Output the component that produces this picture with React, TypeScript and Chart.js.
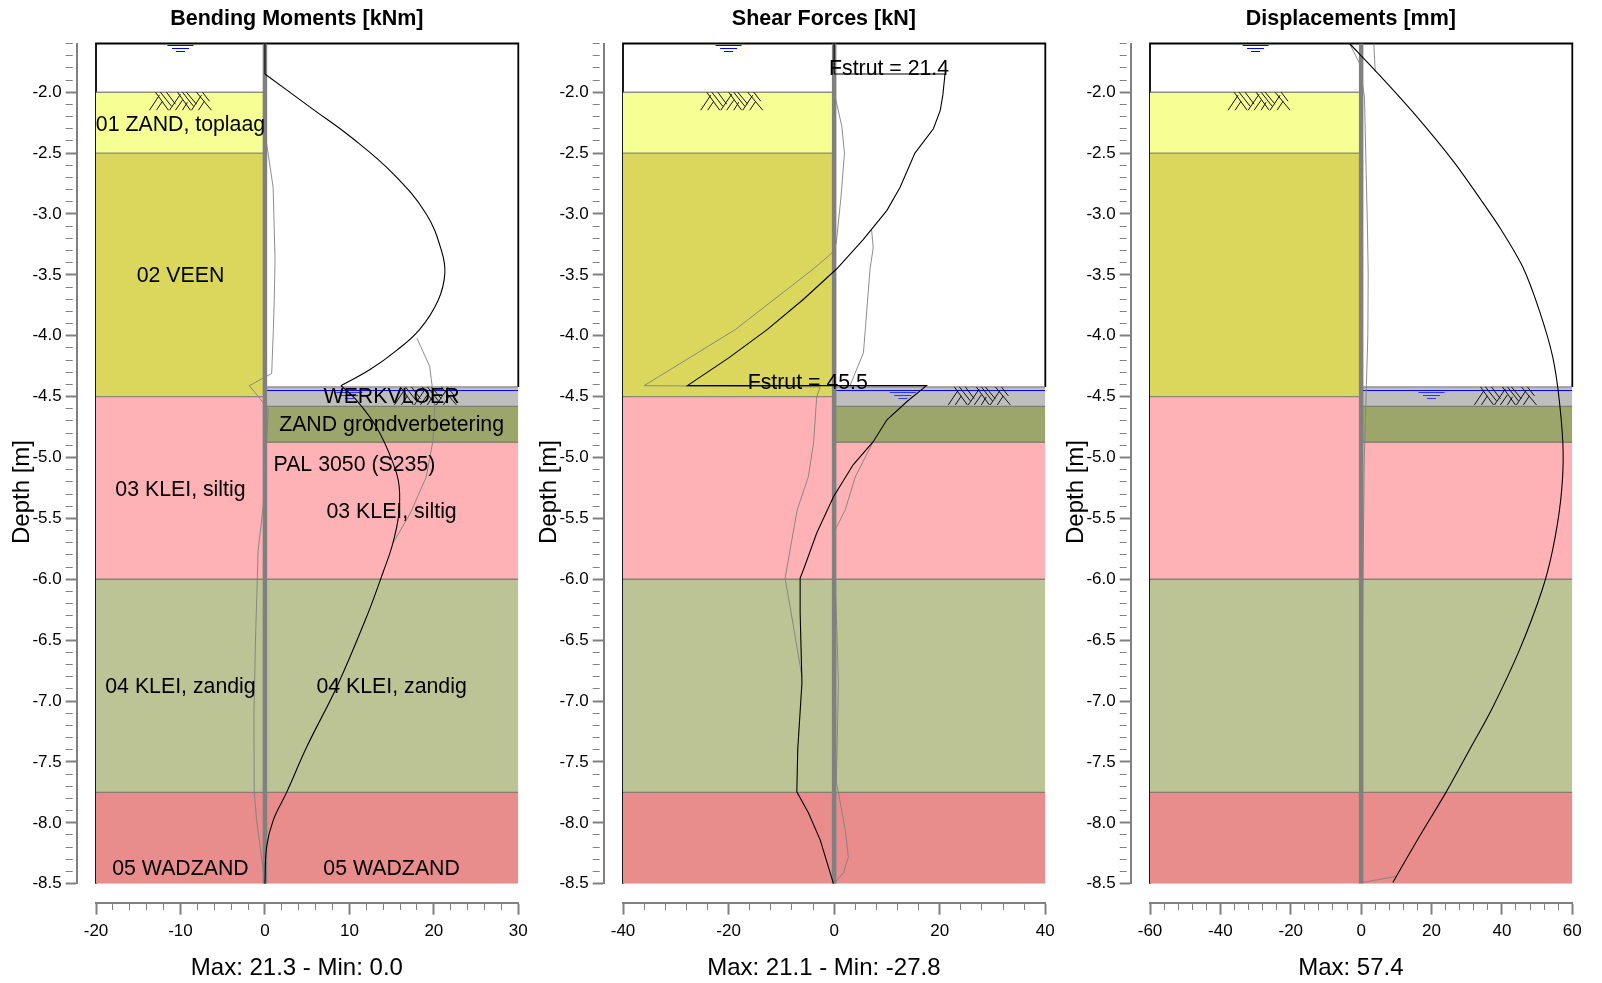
import React, { useEffect, useRef } from "react";
import { Chart, registerables } from "chart.js";

Chart.register(...registerables);

const FONT = "'Liberation Sans', Arial, sans-serif";
const GREY = "#808080";

// ---------- soil layers ----------
const leftLayerDepths = [-2.0, -2.5, -4.5, -6.0, -7.75, -8.5];
const leftLayerColors = ["#f5ff94", "#dbd75c", "#ffb2b6", "#bcc496", "#e98c8c"];
const rightLayerDepths = [-4.42, -4.58, -4.875, -6.0, -7.75, -8.5];
const rightLayerColors = ["#bebebe", "#9ca66a", "#ffb2b6", "#bcc496", "#e98c8c"];
const frameBottomRight = -4.42;
const waterLevelRight = -4.45;

// ---------- Bending moments ----------
const momentBlackTop: number[][] = [[0, -1.6], [0, -1.85]];
const momentBlackA: number[][] = [[0, -1.85], [5.3, -2.12], [10.4, -2.38], [15.2, -2.67], [19.1, -3.0], [20.9, -3.3], [21.3, -3.49], [20.5, -3.71], [18.3, -3.95], [15.6, -4.12], [12.4, -4.28], [9.0, -4.41]];
const momentBlackB: number[][] = [[9.0, -4.41], [10.65, -4.515], [13.2, -4.75], [15.2, -5.05], [15.9, -5.24], [15.8, -5.49], [15.0, -5.74], [14.0, -5.94], [12.2, -6.28], [8.6, -6.87], [5.0, -7.37], [2.57, -7.75], [0.98, -7.98], [0.2, -8.2], [0, -8.5]];
const momentGreyA: number[][] = [[0, -2.3], [0.2, -2.42], [0.97, -2.78], [1.2, -3.38], [1.1, -3.71], [1.0, -3.95], [0.8, -4.31], [-1.85, -4.41], [0.4, -4.6], [0.1, -5.0], [-0.2, -5.4], [-0.8, -5.76], [-1.1, -6.45], [-1.3, -7.1], [-1.27, -7.75], [-0.98, -7.98], [-0.4, -8.28], [0, -8.5]];
const momentGreyB: number[][] = [[18.0, -4.02], [19.5, -4.25], [20.1, -4.58], [19.9, -4.86], [19.1, -5.16], [17.2, -5.46], [15.2, -5.7]];

// ---------- Shear forces ----------
const shearBlackTop: number[][] = [[0, -1.6], [0, -1.85]];
const shearBlack: number[][] = [[0, -1.85], [21.0, -1.85], [20.6, -2.02], [20.1, -2.15], [18.8, -2.3], [15.3, -2.5], [12.5, -2.78], [10, -2.97], [5.5, -3.21], [0.5, -3.45], [-5.8, -3.7], [-12.7, -3.95], [-19.9, -4.18], [-27.8, -4.41], [17.5, -4.41], [13.8, -4.54], [10, -4.69], [7.4, -4.87], [3.6, -5.06], [-0.1, -5.32], [-3.3, -5.62], [-5.8, -5.92], [-6.44, -5.99], [-6.44, -6.28], [-6.1, -6.85], [-6.9, -7.4], [-7.07, -7.745], [-4.86, -7.92], [-2.65, -8.14], [-0.13, -8.5]];
const shearGreyA: number[][] = [[0, -2.0], [1.45, -2.28], [1.95, -2.5], [1.3, -2.86], [0.4, -3.24], [-0.4, -3.32], [-3.9, -3.45], [-18.75, -3.95], [-36, -4.41], [-2.65, -4.42], [-3.3, -4.5], [-3.9, -4.88], [-4.9, -5.16], [-7, -5.43], [-9.3, -5.99], [-7.7, -6.39], [-6.1, -6.8]];
const shearGreyB: number[][] = [[7.1, -3.13], [7.4, -3.28], [6.8, -3.45], [5.9, -3.95], [5.55, -4.14], [3, -4.41]];
const shearGreyC: number[][] = [[7.4, -4.87], [4, -5.16], [2.1, -5.43], [-0.1, -5.62]];
const shearGreyD: number[][] = [[0.1, -5.95], [0.5, -6.4], [0.8, -6.85], [0.6, -7.3], [0.4, -7.67], [0.8, -7.75], [2.1, -8.06], [2.7, -8.28], [1.76, -8.41], [0, -8.5]];

// ---------- Displacements ----------
const dispBlack: number[][] = [[-3.3, -1.6], [4.26, -1.83], [14.6, -2.16], [26, -2.56], [34.1, -2.887], [39.8, -3.13], [45.9, -3.434], [50.6, -3.79], [54.4, -4.17], [56.3, -4.53], [57.4, -4.96], [56.7, -5.35], [54.4, -5.76], [51.4, -6.09], [45, -6.58], [37.4, -7.05], [30.8, -7.4], [24.1, -7.75], [16.6, -8.11], [9.0, -8.49]];
const dispGreyA: number[][] = [[-3.3, -1.6], [-0.5, -1.76], [0.94, -2.04], [1.8, -3.13], [2.0, -3.5], [1.9, -4.0], [1.5, -4.4], [0.9, -5.0], [0.5, -6.0], [0.2, -7.0], [0, -8.0], [0, -8.4], [0.4, -8.49], [9.9, -8.44]];
const dispGreyB: number[][] = [[3.6, -1.6], [4.0, -1.83]];

// ---------- symbols (offsets in screen units from their anchor) ----------
const waterBars: number[][] = [[13, 2], [8.5, 5], [4.5, 8]];
const hatchSegments: number[][] = [
  [0, 18, 10, 3], [7, 18, 13, 9],
  [6, 0, 19, 18], [11, 0, 22, 14], [17, 0, 26, 12],
  [20, 18, 31, 2], [26, 18, 33, 8], [33, 18, 38, 10],
  [28, 0, 41, 18], [33, 0, 44, 14], [37, 0, 47, 12],
  [42, 18, 52, 3], [49, 18, 55, 9],
  [47, 0, 62, 18], [53, 0, 60, 9],
];

type Note = { text: string; x: number; y: number };
type Panel = {
  title: string;
  footer: string;
  xMin: number;
  xMax: number;
  xStep: number;
  xMajor: number;
  waterLeftX: number;
  waterRightX: number;
  hatchLeftX: number;
  hatchRightX: number;
  black: { pts: number[][]; tension: number }[];
  grey: number[][][];
  notes: Note[];
};

const panels: Panel[] = [
  {
    title: "Bending Moments [kNm]",
    footer: "Max: 21.3 - Min: 0.0",
    xMin: -20, xMax: 30, xStep: 2, xMajor: 10,
    waterLeftX: -10, waterRightX: 10, hatchLeftX: -10, hatchRightX: 19,
    black: [{ pts: momentBlackTop, tension: 0 }, { pts: momentBlackA, tension: 0.4 }, { pts: momentBlackB, tension: 0.4 }],
    grey: [momentGreyA, momentGreyB],
    notes: [
      { text: "01 ZAND, toplaag", x: -10, y: -2.25 },
      { text: "02 VEEN", x: -10, y: -3.49 },
      { text: "03 KLEI, siltig", x: -10, y: -5.25 },
      { text: "04 KLEI, zandig", x: -10, y: -6.87 },
      { text: "05 WADZAND", x: -10, y: -8.36 },
      { text: "WERKVLOER", x: 15, y: -4.49 },
      { text: "ZAND grondverbetering", x: 15, y: -4.72 },
      { text: "PAL 3050 (S235)", x: 10.6, y: -5.05 },
      { text: "03 KLEI, siltig", x: 15, y: -5.43 },
      { text: "04 KLEI, zandig", x: 15, y: -6.87 },
      { text: "05 WADZAND", x: 15, y: -8.36 },
    ],
  },
  {
    title: "Shear Forces [kN]",
    footer: "Max: 21.1 - Min: -27.8",
    xMin: -40, xMax: 40, xStep: 4, xMajor: 20,
    waterLeftX: -20, waterRightX: 13, hatchLeftX: -19.4, hatchRightX: 27.5,
    black: [{ pts: shearBlackTop, tension: 0 }, { pts: shearBlack, tension: 0 }],
    grey: [shearGreyA, shearGreyB, shearGreyC, shearGreyD],
    notes: [
      { text: "Fstrut = 21.4", x: 10.4, y: -1.79 },
      { text: "Fstrut = 45.5", x: -5, y: -4.37 },
    ],
  },
  {
    title: "Displacements [mm]",
    footer: "Max: 57.4",
    xMin: -60, xMax: 60, xStep: 4, xMajor: 20,
    waterLeftX: -30, waterRightX: 20, hatchLeftX: -29, hatchRightX: 41,
    black: [{ pts: dispBlack, tension: 0.3 }],
    grey: [dispGreyA, dispGreyB],
    notes: [],
  },
];

// ---------- page geometry of one panel's canvas ----------
const CANVAS_STEP = 527;
const CANVAS_W = 594;
const CANVAS_H = 983;
const AREA_LEFT = 96;
const AREA_RIGHT = 518.3;
const AREA_TOP = 43.5;
const AREA_BOTTOM = 883.7;
const X_AXIS_GAP = 19;
const Y_AXIS_GAP = 19.3;
const TEXT_CENTER_SHIFT = 37.7;
const NOTE_NUDGE = 2;
const PAD_TOP = 6.6;
const PAD_BOTTOM = 0.6;
const TITLE_SIZE = 21.5;
const FOOTER_SIZE = 24;
const PX_PER_M = (AREA_BOTTOM - AREA_TOP) / 6.9;

const pts = (a: number[][]) => a.map(([x, y]) => ({ x, y }));
const GAP = { x: NaN, y: NaN };

const line = (data: any[], color: string, width: number, extra: any = {}) => ({
  type: "scatter",
  data,
  showLine: true,
  pointRadius: 0,
  borderColor: color,
  backgroundColor: color,
  borderWidth: width,
  spanGaps: false,
  tension: 0,
  ...extra,
});

function buildDatasets(p: Panel) {
  const pxX = (AREA_RIGHT - AREA_LEFT) / (p.xMax - p.xMin);
  const list: any[] = [];

  const addLayers = (x0: number, x1: number, depths: number[], colors: string[]) => {
    colors.forEach((c, i) => {
      const a = depths[i];
      const b = depths[i + 1];
      list.push(line([{ x: x0, y: a }, { x: x1, y: a }, { x: x1, y: b }, { x: x0, y: b }, { x: x0, y: a }], "rgba(0,0,0,0)", 0, { fill: "shape", backgroundColor: c }));
    });
    const edges: any[] = [];
    depths.slice(0, -1).forEach((d) => edges.push({ x: x0, y: d }, { x: x1, y: d }, GAP));
    list.push(line(edges, "rgba(110,110,100,0.75)", 1.4));
  };

  list.push(line([{ x: p.xMin, y: -8.5 }, { x: p.xMin, y: -1.6 }, { x: p.xMax, y: -1.6 }, { x: p.xMax, y: frameBottomRight }], "#000000", 1.8, { clip: 4 }));
  addLayers(p.xMin, 0, leftLayerDepths, leftLayerColors);
  addLayers(0, p.xMax, rightLayerDepths, rightLayerColors);
  list.push(line([{ x: 0, y: waterLevelRight }, { x: p.xMax, y: waterLevelRight }], "#0000ff", 1));

  const water = (cx: number, topDepth: number) => {
    const out: any[] = [];
    waterBars.forEach(([half, dy]) => {
      const y = topDepth - dy / PX_PER_M;
      out.push({ x: cx - half / pxX, y }, { x: cx + half / pxX, y }, GAP);
    });
    return out;
  };
  list.push(line(water(p.waterLeftX, -1.6), "#0000ff", 1));
  list.push(line(water(p.waterRightX, waterLevelRight), "#3030ff", 1));

  const hatch = (cx: number, topDepth: number) => {
    const out: any[] = [];
    hatchSegments.forEach(([u0, v0, u1, v1]) => {
      out.push(
        { x: cx + (u0 - 31) / pxX, y: topDepth - v0 / PX_PER_M },
        { x: cx + (u1 - 31) / pxX, y: topDepth - v1 / PX_PER_M },
        GAP
      );
    });
    return out;
  };
  list.push(line(hatch(p.hatchLeftX, leftLayerDepths[0]), "#111111", 1));
  list.push(line(hatch(p.hatchRightX, rightLayerDepths[0]), "#111111", 1));

  p.grey.forEach((g) => list.push(line(pts(g), GREY, 0.9)));
  list.push(line([{ x: 0, y: -8.5 }, { x: 0, y: -1.6 }], GREY, 4.5));
  p.black.forEach((b) => list.push(line(pts(b.pts), "#000000", 1.1, { tension: b.tension })));

  // Chart.js paints the first dataset last, so the list is reversed to keep the paint order above.
  return list.reverse();
}

const isMajor = (v: number, major: number) => Math.abs(v / major - Math.round(v / major)) < 1e-6;

const shiftAxes = {
  id: "shiftAxes",
  afterLayout(chart: any) {
    const { x, y } = chart.scales;
    x.top += X_AXIS_GAP;
    x.bottom += X_AXIS_GAP;
    y.left -= Y_AXIS_GAP;
    y.right -= Y_AXIS_GAP;
    chart.boxes
      .filter((b: any) => !b.axis && b.options && b.options.text)
      .forEach((b: any) => {
        b.left += TEXT_CENTER_SHIFT;
        b.right += TEXT_CENTER_SHIFT;
      });
  },
};

const notesPlugin = {
  id: "notes",
  afterDatasetsDraw(chart: any, _a: any, opts: any) {
    const { ctx, scales } = chart;
    ctx.save();
    ctx.fillStyle = "#000";
    ctx.textAlign = "center";
    ctx.textBaseline = "middle";
    ctx.font = `21.3px ${FONT}`;
    (opts.items as Note[]).forEach((n) => {
      ctx.fillText(n.text, scales.x.getPixelForValue(n.x), scales.y.getPixelForValue(n.y) + NOTE_NUDGE);
    });
    ctx.font = `24px ${FONT}`;
    ctx.translate(22.5, 492);
    ctx.rotate(-Math.PI / 2);
    ctx.fillText("Depth [m]", 0, 0);
    ctx.restore();
  },
};

function PanelChart({ p, index }: { p: Panel; index: number }) {
  const ref = useRef<HTMLCanvasElement>(null);
  useEffect(() => {
    const chart = new Chart(ref.current as HTMLCanvasElement, {
      type: "scatter",
      data: { datasets: buildDatasets(p) as any },
      plugins: [shiftAxes, notesPlugin],
      options: {
        animation: false,
        responsive: false,
        devicePixelRatio: 1,
        layout: { padding: { top: PAD_TOP, bottom: PAD_BOTTOM, left: 0, right: CANVAS_W - AREA_RIGHT } },
        events: [],
        plugins: {
          legend: { display: false },
          tooltip: { enabled: false },
          title: {
            display: true,
            text: p.title,
            color: "#000",
            font: { family: FONT, size: TITLE_SIZE, weight: "bold" },
            padding: { top: 0, bottom: AREA_TOP - PAD_TOP - TITLE_SIZE * 1.2 },
          },
          subtitle: {
            display: true,
            position: "bottom",
            text: p.footer,
            color: "#000",
            font: { family: FONT, size: FOOTER_SIZE, weight: "normal" },
            padding: 0,
          },
          notes: { items: p.notes },
        } as any,
        scales: {
          x: {
            type: "linear",
            min: p.xMin,
            max: p.xMax,
            afterFit: (s: any) => { s.height = CANVAS_H - AREA_BOTTOM - PAD_BOTTOM - FOOTER_SIZE * 1.2; },
            ticks: {
              stepSize: p.xStep,
              autoSkip: false,
              maxRotation: 0,
              color: "#000",
              padding: 6,
              font: { family: FONT, size: 17 },
              callback: (v: any) => (isMajor(Number(v), p.xMajor) ? String(Math.round(Number(v))) : ""),
            },
            border: { color: GREY, width: 2 },
            grid: {
              drawOnChartArea: false,
              tickLength: 12,
              color: GREY,
              tickWidth: (c: any) => (c.tick && isMajor(c.tick.value, p.xMajor) ? 2 : 1),
              tickBorderDash: (c: any) => (c.tick && isMajor(c.tick.value, p.xMajor) ? [] : [6, 30]),
            },
          },
          y: {
            type: "linear",
            min: -8.5,
            max: -1.6,
            afterFit: (s: any) => { s.width = AREA_LEFT; },
            ticks: {
              stepSize: 0.1,
              autoSkip: false,
              color: "#000",
              padding: 4,
              font: { family: FONT, size: 17 },
              callback: (v: any) => (isMajor(Number(v), 0.5) ? Number(v).toFixed(1) : ""),
            },
            border: { color: GREY, width: 2 },
            grid: {
              drawOnChartArea: false,
              tickLength: 11,
              color: GREY,
              tickWidth: (c: any) => (c.tick && isMajor(c.tick.value, 0.5) ? 2 : 1),
              tickBorderDash: (c: any) => (c.tick && isMajor(c.tick.value, 0.5) ? [] : [7, 30]),
            },
          },
        } as any,
      } as any,
    } as any);
    return () => chart.destroy();
  }, [p]);
  return (
    <canvas
      ref={ref}
      width={CANVAS_W}
      height={CANVAS_H}
      style={{ position: "absolute", left: index * CANVAS_STEP, top: 0, width: CANVAS_W, height: CANVAS_H }}
    />
  );
}

export default function App() {
  return (
    <div style={{ position: "fixed", left: 0, top: 0, width: 1602, height: 983, overflow: "hidden", background: "#fff" }}>
      {panels.map((p, i) => (
        <PanelChart key={p.title} p={p} index={i} />
      ))}
    </div>
  );
}
